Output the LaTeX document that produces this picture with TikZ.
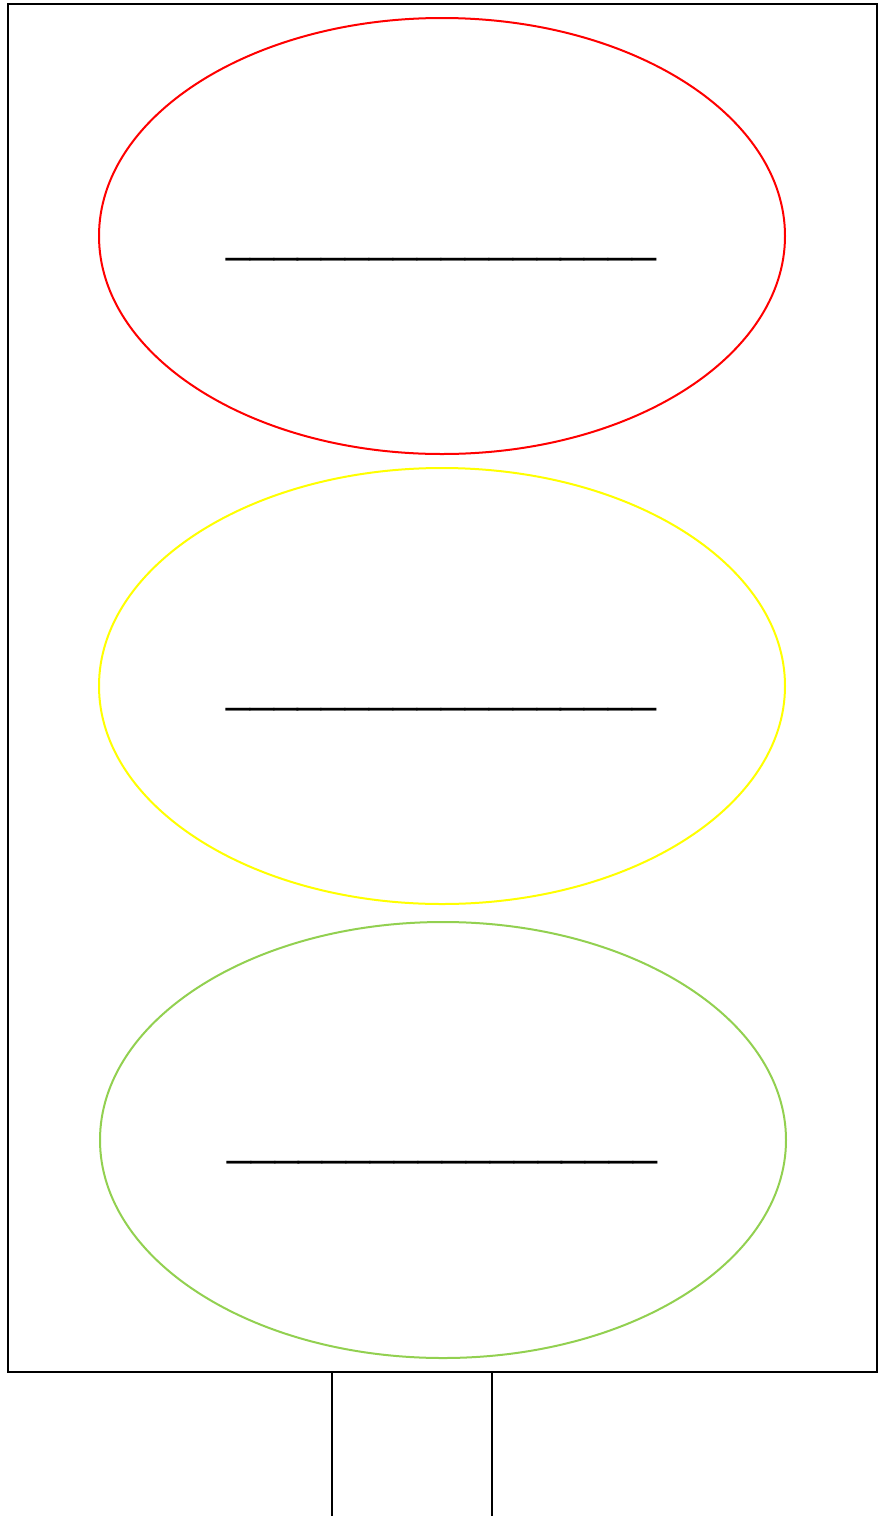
\documentclass[tikz,border=0pt]{standalone}
\usepackage{fontspec}
\setmainfont{Liberation Sans}
\usepackage{xcolor}
\usetikzlibrary{shapes.geometric}

\definecolor{lampred}{HTML}{FF0000}
\definecolor{lampyellow}{HTML}{FFFF00}
\definecolor{lampgreen}{HTML}{92D050}

\begin{document}
\begin{tikzpicture}[
  x=1pt, y=-1pt,
  lamp/.style={ellipse, draw, line width=2pt, inner sep=0pt, minimum width=686pt, minimum height=436pt},
  blank/.style={anchor=base, inner sep=0pt, font=\fontsize{43}{50}\selectfont},
  pole/.style={line width=2pt},
]

\useasboundingbox (0,0) rectangle (882,1516);

\node[draw, line width=2pt, minimum width=869pt, minimum height=1368pt, inner sep=0pt] (housing) at (442.5,688) {};

\node[lamp, draw=lampred] (red) at (442,236) {};
\node[lamp, draw=lampyellow] (yellow) at (442,686) {};
\node[lamp, draw=lampgreen] (green) at (443,1140) {};

\node[blank] (redtext) at (441.5,252) {\_\_\_\_\_\_\_\_\_\_\_\_\_\_\_\_\_\_};
\node[blank] (yellowtext) at (441.5,702) {\_\_\_\_\_\_\_\_\_\_\_\_\_\_\_\_\_\_};
\node[blank] (greentext) at (442.5,1155) {\_\_\_\_\_\_\_\_\_\_\_\_\_\_\_\_\_\_};

\coordinate (poleleft) at (332,1516);
\coordinate (poleright) at (492,1516);

\draw[pole] (housing.south -| poleleft) -- (poleleft);
\draw[pole] (housing.south -| poleright) -- (poleright);

\end{tikzpicture}
\end{document}
